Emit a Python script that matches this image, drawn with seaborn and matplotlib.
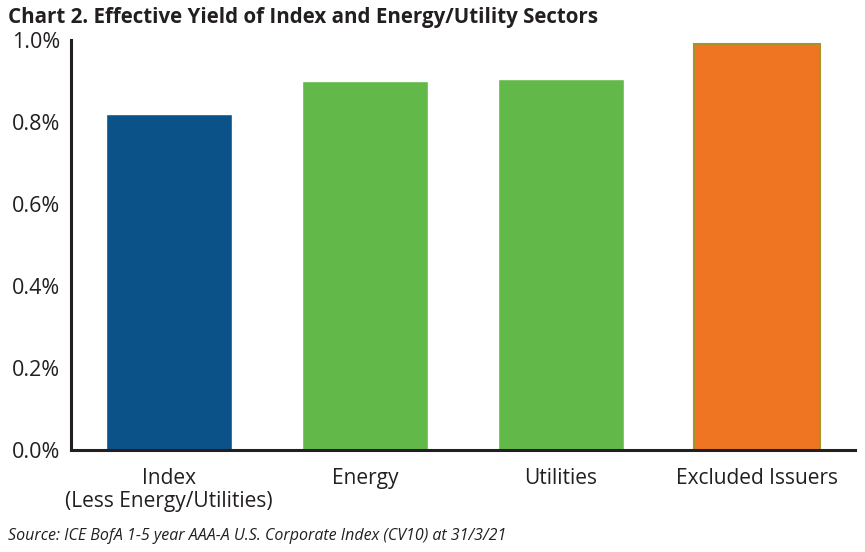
import numpy as np
import pandas as pd
import matplotlib
matplotlib.use("Agg")
import matplotlib.pyplot as plt
import seaborn as sns

# data
categories = ["Index\n(Less Energy/Utilities)", "Energy", "Utilities", "Excluded Issuers"]
yields = [0.82, 0.90, 0.905, 0.99]
bar_colors = ["#0b5289", "#62b94a", "#62b94a", "#f07522"]
y_ticks = [0.0, 0.2, 0.4, 0.6, 0.8, 1.0]
y_tick_labels = ["0.0%", "0.2%", "0.4%", "0.6%", "0.8%", "1.0%"]

df = pd.DataFrame({"cat": categories, "yield": yields})

sns.set_theme(style="white")
plt.rcParams["font.family"] = ["Open Sans", "DejaVu Sans"]

axis_col = "#231f20"
fig = plt.figure(figsize=(8.65, 5.52), dpi=100)
ax = fig.add_axes([71 / 865, 1 - 450 / 552, 784 / 865, 410 / 552])

sns.barplot(data=df, x="cat", y="yield", hue="cat", palette=bar_colors,
            width=0.64, saturation=1, legend=False, ax=ax)
# thin olive edge on the last bar as in the reference
ax.patches[3].set_edgecolor("#a8922a")
ax.patches[3].set_linewidth(1.5)

ax.set_xlim(-0.5, 3.5)
ax.set_ylim(0, 1.0)
ax.set_xlabel("")
ax.set_ylabel("")

for side in ["top", "right"]:
    ax.spines[side].set_visible(False)
for side in ["left", "bottom"]:
    ax.spines[side].set_color(axis_col)
    ax.spines[side].set_linewidth(2.2)

ax.set_yticks(y_ticks)
ax.set_yticklabels(y_tick_labels, fontsize=15.5, color="#231f20")
ax.tick_params(axis="y", direction="in", length=13, width=2.2, color=axis_col, pad=8)

ax.set_xticks(range(len(categories)))
ax.set_xticklabels(categories, fontsize=15, color="#231f20", linespacing=1.1)
ax.tick_params(axis="x", which="major", length=0, pad=13)
ax.set_xticks([0.5, 1.5, 2.5, 3.5], minor=True)
ax.tick_params(axis="x", which="minor", direction="in", length=7, width=2.2, color=axis_col)

fig.text(8 / 865, 1 - 18 / 552, "Chart 2. Effective Yield of Index and Energy/Utility Sectors",
         fontsize=14.8, fontweight="bold", color="#231f20", va="center", ha="left")
fig.text(8 / 865, 1 - 536 / 552, "Source: ICE BofA 1-5 year AAA-A U.S. Corporate Index (CV10) at 31/3/21",
         fontsize=11.5, style="italic", color="#231f20", va="center", ha="left")

fig.savefig("out.png", dpi=100)
